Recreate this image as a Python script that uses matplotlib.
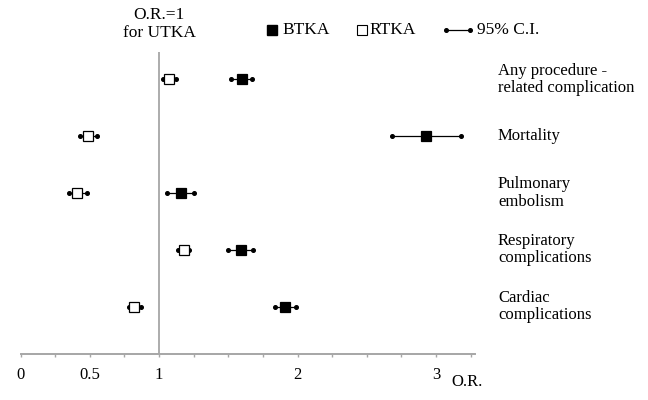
import matplotlib
matplotlib.use("Agg")
import matplotlib.pyplot as plt
import matplotlib.transforms as mtransforms
from matplotlib.ticker import FixedLocator

plt.rcParams['font.family'] = ['Liberation Serif', 'DejaVu Serif']

categories = ["Any procedure -\nrelated complication", "Mortality",
              "Pulmonary\nembolism", "Respiratory\ncomplications",
              "Cardiac\ncomplications"]
btka_or = [1.60, 2.93, 1.16, 1.59, 1.91]
btka_lo = [1.52, 2.68, 1.06, 1.50, 1.84]
btka_hi = [1.67, 3.18, 1.25, 1.68, 1.99]
rtka_or = [1.07, 0.49, 0.41, 1.18, 0.82]
rtka_lo = [1.03, 0.43, 0.35, 1.14, 0.78]
rtka_hi = [1.12, 0.55, 0.48, 1.22, 0.87]
tick_positions = [0, 0.25, 0.5, 0.75, 1, 1.25, 1.5, 1.75, 2, 2.25, 2.5, 2.75, 3, 3.25]
tick_labels = ["0", "", "0.5", "", "1", "", "", "", "2", "", "", "", "3", ""]

W, H = 648, 400
fig = plt.figure(figsize=(W / 100, H / 100), dpi=100)
xmax = 3.28
px_per_unit = 138.5
ax = fig.add_axes([20.5 / W, (H - 354) / H, xmax * px_per_unit / W, (354 - 51.7) / H])
ax.set_xlim(0, xmax)
ax.set_ylim(4.832, -0.4855)

gray = '#a6a6a6'
for s in ['top', 'right', 'left']:
    ax.spines[s].set_visible(False)
ax.spines['bottom'].set_color(gray)
ax.spines['bottom'].set_linewidth(1.4)
ax.set_yticks([])
ax.xaxis.set_major_locator(FixedLocator(tick_positions))
ax.set_xticklabels(tick_labels)
ax.tick_params(axis='x', direction='out', length=2.5, width=1.0, color=gray,
               labelsize=12, pad=7, labelcolor='black')

ax.axvline(1, color=gray, lw=1.3, zorder=1)

rows = list(range(len(categories)))
for i in rows:
    for lo, hi, orv, face in [(btka_lo[i], btka_hi[i], btka_or[i], 'black'),
                              (rtka_lo[i], rtka_hi[i], rtka_or[i], 'white')]:
        ax.plot([lo, hi], [i, i], color='black', lw=0.9, marker='o', ms=2.6,
                zorder=2, clip_on=False)
        ax.plot([orv], [i], marker='s', ms=7.3, mfc=face, mec='black', mew=0.9,
                linestyle='none', zorder=3, clip_on=False)

trans = mtransforms.blended_transform_factory(fig.transFigure, ax.transData)
for i, lab in zip(rows, categories):
    ax.text(498 / W, i, lab, transform=trans, ha='left', va='center',
            fontsize=12, linespacing=1.1)

# overlay for annotations / legend
lg = fig.add_axes([0, 0, 1, 1])
lg.set_xlim(0, W)
lg.set_ylim(H, 0)
lg.axis('off')
lg.patch.set_alpha(0)

lg.text(159, 24, "O.R.=1\nfor UTKA", ha='center', va='center', fontsize=12.5,
        linespacing=1.15)
lg.plot([272], [30], marker='s', ms=7.5, mfc='black', mec='black', linestyle='none')
lg.text(282, 30, "BTKA", ha='left', va='center', fontsize=12.5)
lg.plot([362], [30], marker='s', ms=7.5, mfc='white', mec='black', mew=0.8, linestyle='none')
lg.text(369, 30, "RTKA", ha='left', va='center', fontsize=12.5)
lg.plot([446, 470], [30, 30], color='black', lw=0.9, marker='o', ms=2.6)
lg.text(477, 30, "95% C.I.", ha='left', va='center', fontsize=12.5)
lg.text(466.7, 382, "O.R.", ha='center', va='center', fontsize=12)

fig.savefig("out.png", dpi=100)
